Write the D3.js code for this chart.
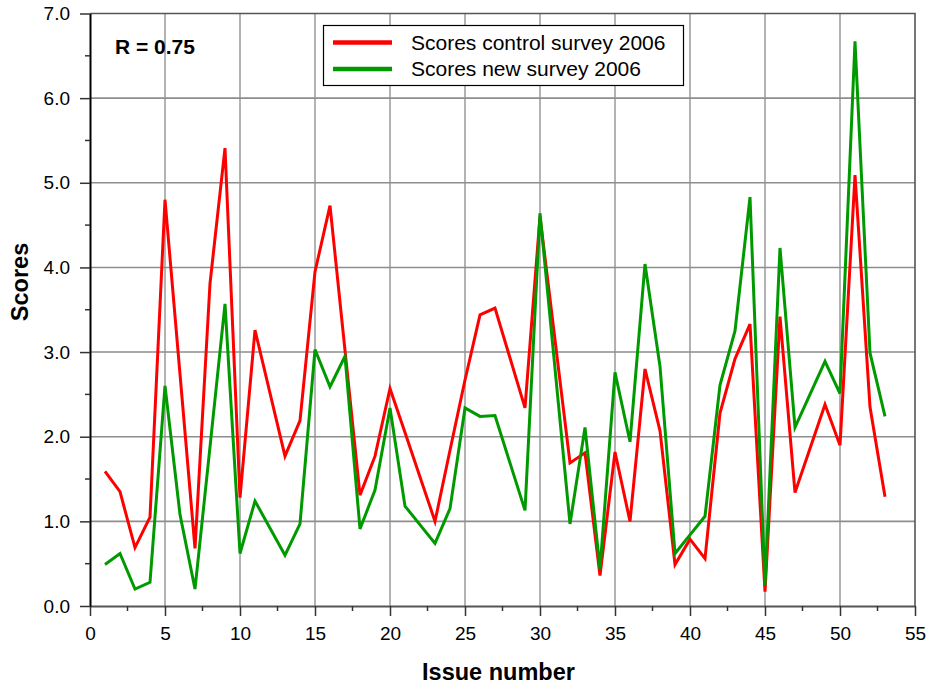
<!DOCTYPE html>
<html>
<head>
    <meta charset="utf-8">
    <script src="https://d3js.org/d3.v7.min.js"></script>
    <style>
        body { margin: 0; background: #fff; }
        text { font-family: "Liberation Sans", Arial, sans-serif; fill: #000; }
    </style>
</head>
<body>
<script>
    // issue numbers that have scores (12, 22, 28, 31, 48 are absent)
    var issues = [1,2,3,4,5,6,7,8,9,10,11,13,14,15,16,17,18,19,20,21,23,24,25,26,27,29,30,
                  32,33,34,35,36,37,38,39,40,41,42,43,44,45,46,47,49,50,51,52,53];

    var controlScores = [1.59,1.35,0.69,1.05,4.80,2.74,0.68,3.81,5.41,1.28,3.26,1.77,2.19,3.95,4.73,3.02,
                         1.31,1.77,2.57,2.05,1.00,1.84,2.67,3.44,3.52,2.34,4.60,
                         1.69,1.81,0.36,1.82,1.00,2.80,2.07,0.49,0.79,0.56,2.28,2.92,3.33,0.17,3.42,1.34,
                         2.38,1.90,5.09,2.35,1.29];

    var newScores = [0.49,0.62,0.20,0.28,2.60,1.08,0.20,1.88,3.57,0.62,1.24,0.60,0.97,3.03,2.59,2.95,
                     0.91,1.37,2.34,1.18,0.74,1.15,2.34,2.24,2.25,1.13,4.64,
                     0.97,2.11,0.44,2.76,1.94,4.04,2.83,0.62,0.84,1.06,2.61,3.25,4.83,0.25,4.23,2.11,
                     2.89,2.51,6.67,2.99,2.24];

    var xTicks = d3.range(0, 56, 5),
        yTicks = d3.range(0, 7.01, 1);

    var seriesNames = ["Scores control survey 2006", "Scores new survey 2006"],
        seriesColors = ["#ff0000", "#009a00"];

    var width = 931,
        height = 684,
        margin = {top: 13.5, right: 16, bottom: 78, left: 90};

    var x = d3.scaleLinear().domain([0, 55]).range([margin.left, width - margin.right]);
    var y = d3.scaleLinear().domain([0, 7]).range([height - margin.bottom, margin.top]);

    var svg = d3.select("body").append("svg")
        .attr("width", width)
        .attr("height", height);

    // grid
    svg.append("g").selectAll("line")
      .data(xTicks.slice(1, -1))
      .enter().append("line")
        .attr("x1", x).attr("x2", x)
        .attr("y1", y(0)).attr("y2", y(7))
        .attr("stroke", "#a0a0a0")
        .attr("stroke-width", 1.6);

    svg.append("g").selectAll("line")
      .data(yTicks.slice(1, -1))
      .enter().append("line")
        .attr("x1", x(0)).attr("x2", x(55))
        .attr("y1", y).attr("y2", y)
        .attr("stroke", "#8e8e8e")
        .attr("stroke-width", 1.6);

    // frame: top and right
    svg.append("path")
        .attr("d", "M" + x(0) + "," + y(7) + "H" + x(55) + "V" + y(0))
        .attr("fill", "none")
        .attr("stroke", "#555")
        .attr("stroke-width", 1.6);

    // axes
    var xAxis = d3.axisBottom(x)
        .tickValues(xTicks)
        .tickFormat(d3.format("d"))
        .tickSizeInner(10)
        .tickSizeOuter(0)
        .tickPadding(11);

    var yAxis = d3.axisLeft(y)
        .tickValues(yTicks)
        .tickFormat(d3.format(".1f"))
        .tickSizeInner(10)
        .tickSizeOuter(0)
        .tickPadding(10);

    var gx = svg.append("g")
        .attr("transform", "translate(0," + y(0) + ")")
        .call(xAxis);
    gx.select(".domain").attr("stroke", "#555").attr("stroke-width", 2);
    gx.selectAll(".tick line").attr("stroke", "#333").attr("stroke-width", 1.5);
    gx.selectAll(".tick text").style("font-size", "19px").attr("fill", "#000");

    var gy = svg.append("g")
        .attr("transform", "translate(" + x(0) + ",0)")
        .call(yAxis);
    gy.select(".domain").attr("stroke", "#000").attr("stroke-width", 2);
    gy.selectAll(".tick line").attr("stroke", "#333").attr("stroke-width", 1.5);
    gy.selectAll(".tick text").style("font-size", "19px").attr("fill", "#000");

    // minor ticks
    svg.append("g").selectAll("line")
      .data(d3.range(2.5, 55, 5))
      .enter().append("line")
        .attr("x1", x).attr("x2", x)
        .attr("y1", y(0)).attr("y2", y(0) + 5)
        .attr("stroke", "#333").attr("stroke-width", 1.5);

    svg.append("g").selectAll("line")
      .data(d3.range(0.5, 7, 1))
      .enter().append("line")
        .attr("x1", x(0) - 5).attr("x2", x(0))
        .attr("y1", y).attr("y2", y)
        .attr("stroke", "#333").attr("stroke-width", 1.5);

    // series
    var line = d3.line()
        .x(function(d) { return x(d[0]); })
        .y(function(d) { return y(d[1]); });

    [controlScores, newScores].forEach(function(vals, i) {
        svg.append("path")
            .datum(issues.map(function(n, j) { return [n, vals[j]]; }))
            .attr("d", line)
            .attr("fill", "none")
            .attr("stroke", seriesColors[i])
            .attr("stroke-width", 3)
            .attr("stroke-linejoin", "miter");
    });

    // legend
    var legend = svg.append("g");
    legend.append("rect")
        .attr("x", 323.5).attr("y", 25.5)
        .attr("width", 360).attr("height", 60)
        .attr("fill", "#fff")
        .attr("stroke", "#000")
        .attr("stroke-width", 1.2);

    seriesNames.forEach(function(name, i) {
        var ly = 42.5 + i * 26.5;
        legend.append("line")
            .attr("x1", 333).attr("x2", 392)
            .attr("y1", ly).attr("y2", ly)
            .attr("stroke", seriesColors[i])
            .attr("stroke-width", 4.5);
        legend.append("text")
            .attr("x", 411).attr("y", ly + 7)
            .style("font-size", "21px")
            .text(name);
    });

    // annotation and titles
    svg.append("text")
        .attr("x", 115).attr("y", 54)
        .style("font-size", "21px")
        .style("font-weight", "bold")
        .text("R = 0.75");

    svg.append("text")
        .attr("x", (x(0) + x(55)) / 2 - 4).attr("y", 680)
        .attr("text-anchor", "middle")
        .style("font-size", "23.5px")
        .style("font-weight", "bold")
        .text("Issue number");

    svg.append("text")
        .attr("transform", "translate(28,282) rotate(-90)")
        .attr("text-anchor", "middle")
        .style("font-size", "23.5px")
        .style("font-weight", "bold")
        .text("Scores");
</script>
</body>
</html>
